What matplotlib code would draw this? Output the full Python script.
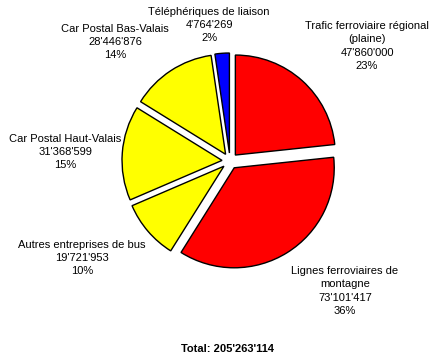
import matplotlib
matplotlib.use("Agg")
from matplotlib import pyplot as plt

categories = ["Trafic ferroviaire régional\n(plaine)",
              "Lignes ferroviaires de\nmontagne",
              "Autres entreprises de bus",
              "Car Postal Haut-Valais",
              "Car Postal Bas-Valais",
              "Téléphériques de liaison"]
values = [47860000, 73101417, 19721953, 31368599, 28446876, 4764269]
colors = ["#ff0000", "#ff0000", "#ffff00", "#ffff00", "#ffff00", "#0000ff"]

# label block centres in pixels (from top-left)
label_pos = [(367, 46), (345, 291), (82, 258), (65, 152), (115, 42), (209, 25)]

W, H = 437, 359
cx, cy, r = 230, 161, 100

plt.rcParams['font.family'] = ['Liberation Sans', 'DejaVu Sans']
fig = plt.figure(figsize=(W / 100, H / 100), dpi=100)
ax = fig.add_axes([0, 0, 1, 1])
ax.axis('off')

ax.pie(values, colors=colors, startangle=90, counterclock=False,
       explode=[0.08] * len(values), radius=1.0,
       wedgeprops=dict(edgecolor='black', linewidth=1))
ax.set_xlim(-cx / r, (W - cx) / r)
ax.set_ylim(-(H - cy) / r, cy / r)
ax.set_aspect('equal')

total = sum(values)


def fmt(v):
    return f"{v:,}".replace(",", "'")


for name, v, (px, py) in zip(categories, values, label_pos):
    txt = f"{name}\n{fmt(v)}\n{round(v / total * 100)}%"
    ax.text((px - cx) / r, (cy - py) / r, txt, ha='center', va='center',
            fontsize=8, linespacing=1.4)

ax.text((227 - cx) / r, (cy - 349) / r, "Total: " + fmt(total),
        ha='center', va='center', fontsize=8, fontweight='bold')

fig.savefig("out.png", dpi=100)
